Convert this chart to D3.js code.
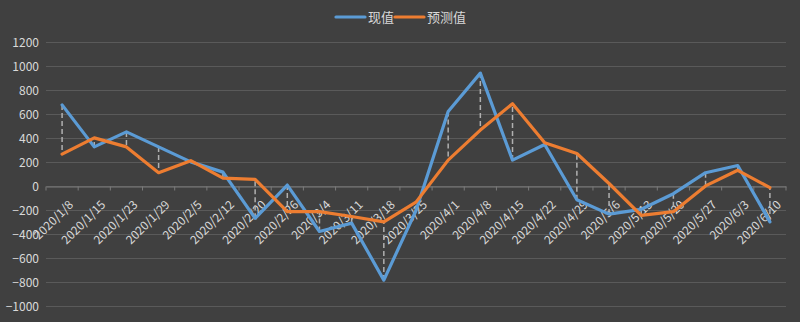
<!DOCTYPE html>
<html>
<head>
<meta charset="utf-8">
<script src="https://cdn.jsdelivr.net/npm/d3@7"></script>
<style>
  html, body { margin: 0; padding: 0; background: #404040; }
  svg { display: block; }
  text { font-family: "Noto Sans CJK SC", "Microsoft YaHei", sans-serif; fill: #d9d9d9; }
</style>
</head>
<body>
<svg id="chart" width="800" height="322"></svg>
<script>
// Weekly dates on the category axis
const dates = ["2020/1/8", "2020/1/15", "2020/1/23", "2020/1/29", "2020/2/5", "2020/2/12",
  "2020/2/20", "2020/2/26", "2020/3/4", "2020/3/11", "2020/3/18", "2020/3/25",
  "2020/4/1", "2020/4/8", "2020/4/15", "2020/4/22", "2020/4/29", "2020/5/6",
  "2020/5/13", "2020/5/20", "2020/5/27", "2020/6/3", "2020/6/10"];

// 现值 (actual) and 预测值 (forecast)
const actual = [680, 330, 455, 330, 205, 120, -265, 12, -375, -305, -780, -200,
  625, 945, 220, 350, -110, -230, -190, -60, 115, 175, -295];
const forecast = [270, 405, 330, 115, 215, 70, 60, -210, -210, -250, -295, -130,
  220, 470, 690, 365, 275, 25, -240, -210, 5, 135, -10];

const yTicks = [-1000, -800, -600, -400, -200, 0, 200, 400, 600, 800, 1000, 1200];

const seriesNames = ["现值", "预测值"];
const colors = ["#5b9bd5", "#ed7d31"];

const svg = d3.select("#chart");

const x = d3.scaleBand().domain(dates).range([46, 786]);
const y = d3.scaleLinear().domain([-1000, 1200]).range([306.5, 42.5]);
const cx = d => x(d) + x.bandwidth() / 2;

// Horizontal gridlines
svg.append("g")
  .selectAll("line")
  .data(yTicks)
  .join("line")
  .attr("x1", 46).attr("x2", 786)
  .attr("y1", d => y(d)).attr("y2", d => y(d))
  .attr("stroke", "#5a5a5a")
  .attr("stroke-width", 1);

// Value axis labels
const yAxis = svg.append("g")
  .attr("transform", "translate(39,0)")
  .call(d3.axisLeft(y).tickValues(yTicks).tickFormat(d3.format("d")).tickSize(0).tickPadding(0));
yAxis.select(".domain").remove();
yAxis.selectAll("text")
  .attr("font-size", 12)
  .style("fill", "#d9d9d9");

// Category axis along zero
const xAxis = svg.append("g")
  .attr("transform", `translate(0,${y(0)})`)
  .call(d3.axisBottom(x).tickSize(0));
xAxis.select(".domain").attr("stroke", "#7a7a7a");
xAxis.selectAll(".tick line").remove();
xAxis.selectAll("text")
  .attr("font-size", 12)
  .style("fill", "#d9d9d9")
  .attr("text-anchor", "end")
  .attr("transform", "translate(6,13) rotate(-45)")
  .attr("dy", "0.7em")
  .attr("dx", 0)
  .attr("y", 0);

// Boundary tick marks between categories
svg.append("g")
  .selectAll("line")
  .data(dates.concat([null]))
  .join("line")
  .attr("x1", (d, i) => i < dates.length ? x(d) : x(dates[dates.length - 1]) + x.bandwidth())
  .attr("x2", (d, i) => i < dates.length ? x(d) : x(dates[dates.length - 1]) + x.bandwidth())
  .attr("y1", y(0)).attr("y2", y(0) + 4)
  .attr("stroke", "#7a7a7a");

// High-low dashed connectors between the two series
svg.append("g")
  .selectAll("line")
  .data(dates)
  .join("line")
  .attr("x1", d => cx(d)).attr("x2", d => cx(d))
  .attr("y1", (d, i) => y(actual[i]))
  .attr("y2", (d, i) => y(forecast[i]))
  .attr("stroke", "#b0b0b0")
  .attr("stroke-width", 1.5)
  .attr("stroke-dasharray", "5,3");

const line = d3.line()
  .x((v, i) => cx(dates[i]))
  .y(v => y(v));

[actual, forecast].forEach((vals, k) => {
  svg.append("path")
    .datum(vals)
    .attr("d", line)
    .attr("fill", "none")
    .attr("stroke", colors[k])
    .attr("stroke-width", 3.2)
    .attr("stroke-linejoin", "round")
    .attr("stroke-linecap", "round");
});

// Legend
const legend = svg.append("g");
const legendItems = [{ x: 336, w: 29 }, { x: 395, w: 29 }];
legendItems.forEach((it, k) => {
  legend.append("line")
    .attr("x1", it.x).attr("x2", it.x + it.w)
    .attr("y1", 17).attr("y2", 17)
    .attr("stroke", colors[k])
    .attr("stroke-width", 3.2)
    .attr("stroke-linecap", "round");
  legend.append("text")
    .attr("x", it.x + it.w + 3)
    .attr("y", 17)
    .attr("dy", "0.35em")
    .attr("font-size", 13)
    .text(seriesNames[k]);
});
</script>
</body>
</html>
